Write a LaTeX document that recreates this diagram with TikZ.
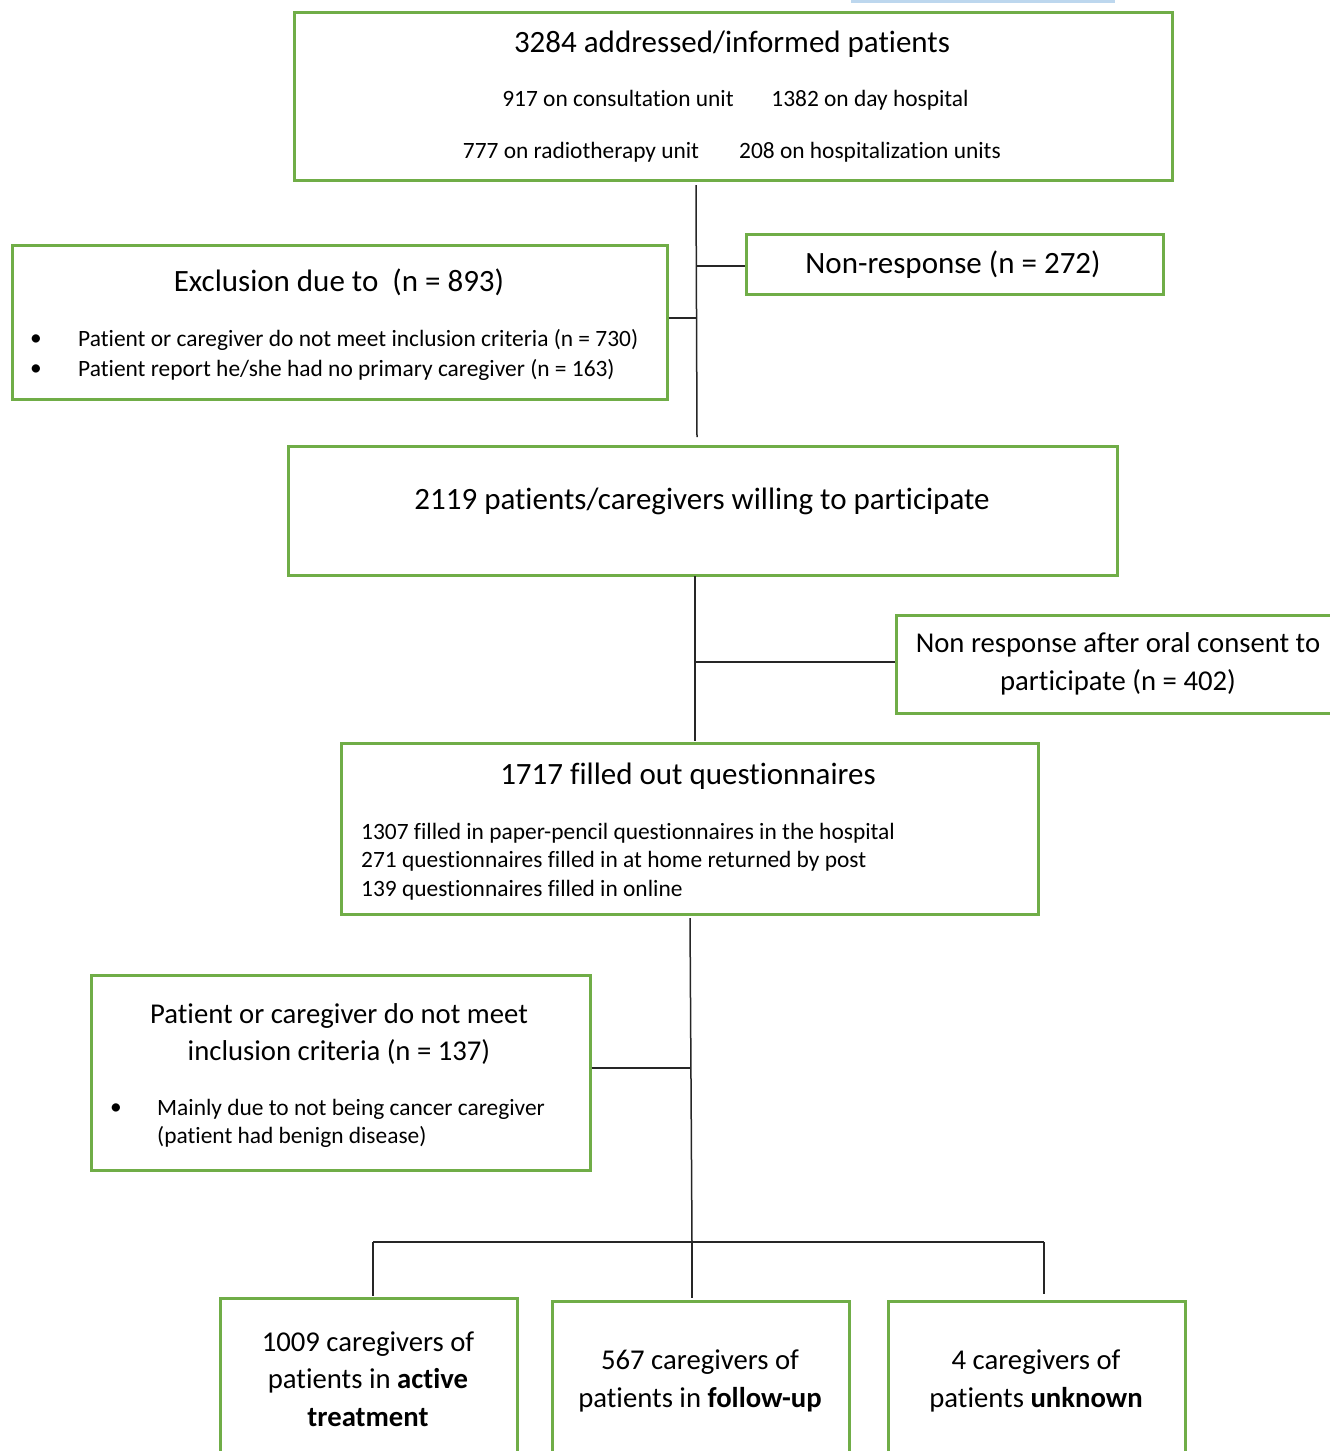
\documentclass[tikz,border=0pt]{standalone}
\usepackage{fontspec}
\setmainfont{Carlito}[Ligatures=NoCommon]
\definecolor{boxgreen}{HTML}{70AD47}
\definecolor{barblue}{HTML}{BDD7EE}
\tikzset{
  gbox/.style={draw=boxgreen, line width=2.6pt, inner sep=0pt, anchor=north west},
  conn/.style={draw=black!85, line width=1.5pt},
  big/.style={font=\fontsize{31}{36}\selectfont, inner sep=0pt, yshift=-2pt},
  small/.style={font=\fontsize{23.4}{28}\selectfont, inner sep=0pt, yshift=-2pt},
  bigc/.style={inner sep=0pt, align=center, font=\fontsize{28.7}{37.5}\selectfont, yshift=-2pt},
}
\begin{document}
\begin{tikzpicture}[x=1pt, y=-1pt]
\useasboundingbox (0,0) rectangle (1330,1451);
\clip (0,0) rectangle (1330,1451);
\fill[barblue] (851,0) rectangle (1115,3);

% boxes
\node[gbox, minimum width=878, minimum height=168] (top) at (293,11) {};
\node[gbox, minimum width=417, minimum height=60] (nr) at (745,233) {};
\node[gbox, minimum width=655, minimum height=154] (excl) at (11,244) {};
\node[gbox, minimum width=829, minimum height=129] (will) at (287,445) {};
\node[gbox, minimum width=450, minimum height=98] (nr2) at (895,614) {};
\node[gbox, minimum width=697, minimum height=171] (fill) at (340,742) {};
\node[gbox, minimum width=499, minimum height=195] (pat) at (90,974) {};
\node[gbox, minimum width=297, minimum height=200] (b1) at (219,1297) {};
\node[gbox, minimum width=297, minimum height=200] (b2) at (551,1300) {};
\node[gbox, minimum width=297, minimum height=200] (b3) at (887,1300) {};

% texts
\node[big] (t1) at (732,42) {3284 addressed/informed patients};
\node[small] (t1a) at (618,96) {917 on consultation unit};
\node[small] (t1b) at (870,98) {1382 on day hospital};
\node[small] (t1c) at (581,150) {777 on radiotherapy unit};
\node[small] (t1d) at (870,150) {208 on hospitalization units};

\node[big] (tnr) at (953,263) {Non-response (n = 272)};

\node[big] (tex) at (339,280) {Exclusion due to\ \ (n = 893)};
\node[small] (bx1) at (36,338) {\textbullet};
\node[small] (bx2) at (36,368) {\textbullet};
\node[small, anchor=west] (tex1) at (78,338) {Patient or caregiver do not meet inclusion criteria (n = 730)};
\node[small, anchor=west] (tex2) at (78,368) {Patient report he/she had no primary caregiver (n = 163)};

\node[big] (twill) at (702,499) {2119 patients/caregivers willing to participate};

\node[bigc] (tnr2) at (1118,662) {Non response after oral consent to\\participate (n = 402)};

\node[big] (tfill) at (688,774) {1717 filled out questionnaires};
\node[small, anchor=west] (tf1) at (361,831) {1307 filled in paper-pencil questionnaires in the hospital};
\node[small, anchor=west] (tf2) at (361,859) {271 questionnaires filled in at home returned by post};
\node[small, anchor=west] (tf3) at (361,888) {139 questionnaires filled in online};

\node[bigc] (tpat) at (339,1032) {Patient or caregiver do not meet\\inclusion criteria (n = 137)};
\node[small] (bp) at (116,1107) {\textbullet};
\node[small, anchor=west] (tp1) at (157,1107) {Mainly due to not being cancer caregiver};
\node[small, anchor=west] (tp2) at (157,1135) {(patient had benign disease)};

\node[bigc] (tb1) at (368,1377) {1009 caregivers of\\patients in \textbf{active}\\\textbf{treatment}};
\node[bigc] (tb2) at (700,1379) {567 caregivers of\\patients in \textbf{follow-up}};
\node[bigc] (tb3) at (1036,1379) {4 caregivers of\\patients \textbf{unknown}};

% connectors
\coordinate (s1) at (696,185);
\coordinate (e1) at (697,437);
\coordinate (k1) at (697,266);
\coordinate (k2) at (697,318);
\draw[conn] (s1) -- (e1);
\draw[conn] (k1) -- (nr.west |- k1);
\draw[conn] (excl.east |- k2) -- (k2);

\coordinate (s2) at (695,576);
\coordinate (e2) at (695,741);
\coordinate (k3) at (695,662);
\draw[conn] (s2) -- (e2);
\draw[conn] (k3) -- (nr2.west |- k3);

\coordinate (s3) at (690,918);
\coordinate (e3) at (692,1242);
\coordinate (k4) at (691,1068);
\draw[conn] (s3) -- (e3);
\draw[conn] (pat.east |- k4) -- (k4);

\coordinate (hL) at (373,1242);
\coordinate (hR) at (1044,1242);
\draw[conn] (hL) -- (hR);
\draw[conn] (hL) -- (373,1296) coordinate (d1);
\draw[conn] (e3) -- (692,1298) coordinate (d2);
\draw[conn] (hR) -- (1044,1294) coordinate (d3);
\end{tikzpicture}
\end{document}
